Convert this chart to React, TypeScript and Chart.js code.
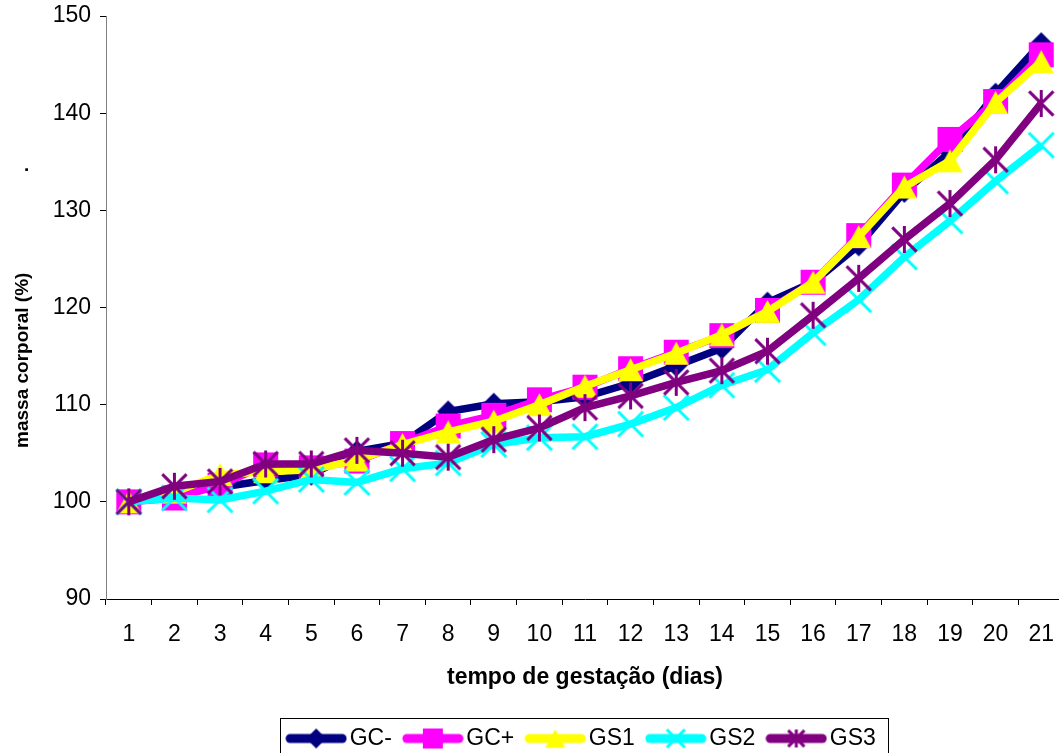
import React, { useEffect, useRef } from "react";
import { Chart, registerables } from "chart.js";

Chart.register(...registerables);

const categories = ["1", "2", "3", "4", "5", "6", "7", "8", "9", "10", "11", "12", "13", "14", "15", "16", "17", "18", "19", "20", "21"];
const seriesNames = ["GC-", "GC+", "GS1", "GS2", "GS3"];
const gcMinus = [100, 100.9, 101.5, 102.2, 102.8, 105.2, 106.0, 109.3, 110.1, 110.3, 110.8, 112.2, 114.0, 115.8, 120.5, 122.6, 126.4, 131.9, 136.0, 142.0, 147.2];
const gcPlus = [100, 100.4, 101.7, 103.8, 103.5, 104.2, 106.0, 107.8, 108.9, 110.5, 111.8, 113.7, 115.4, 117.1, 119.7, 122.6, 127.4, 132.6, 137.3, 141.2, 146.0];
const gs1 = [100, 101.0, 102.8, 103.1, 103.3, 104.3, 105.9, 107.2, 108.3, 110.0, 111.9, 113.6, 115.3, 117.2, 119.6, 122.6, 127.3, 132.4, 135.1, 141.1, 145.3];
const gs2 = [100, 100.4, 100.2, 101.1, 102.3, 102.0, 103.4, 104.0, 105.9, 106.6, 106.7, 108.0, 109.7, 112.0, 113.6, 117.4, 120.8, 125.2, 128.9, 133.0, 136.7];
const gs3 = [100, 101.6, 102.1, 103.9, 103.9, 105.3, 105.0, 104.6, 106.4, 107.6, 109.7, 110.9, 112.3, 113.5, 115.5, 119.2, 123.0, 127.0, 130.7, 135.2, 141.0];
const yTickValues = [90, 100, 110, 120, 130, 140, 150];

const seriesValues = [gcMinus, gcPlus, gs1, gs2, gs3];
const seriesColors = ["#000080", "#FF00FF", "#FFFF00", "#00FFFF", "#800080"];
const seriesMarkers = ["diamond", "square", "triangle", "x", "star"];

const FONT = '"Liberation Sans", Arial, Helvetica, sans-serif';
const W = 1080;
const H = 760;

function drawMarker(ctx: CanvasRenderingContext2D, kind: string, cx: number, cy: number, s: number, color: string) {
  ctx.save();
  ctx.fillStyle = color;
  ctx.strokeStyle = color;
  ctx.lineCap = "butt";
  if (kind === "diamond") {
    ctx.beginPath();
    ctx.moveTo(cx, cy - s);
    ctx.lineTo(cx + s, cy);
    ctx.lineTo(cx, cy + s);
    ctx.lineTo(cx - s, cy);
    ctx.closePath();
    ctx.fill();
  } else if (kind === "square") {
    ctx.fillRect(cx - s, cy - s, 2 * s, 2 * s);
  } else if (kind === "triangle") {
    const hh = s * 0.92;
    ctx.beginPath();
    ctx.moveTo(cx, cy - hh);
    ctx.lineTo(cx + s, cy + hh);
    ctx.lineTo(cx - s, cy + hh);
    ctx.closePath();
    ctx.fill();
  } else if (kind === "x") {
    ctx.lineWidth = 3;
    ctx.beginPath();
    ctx.moveTo(cx - s, cy - s);
    ctx.lineTo(cx + s, cy + s);
    ctx.moveTo(cx + s, cy - s);
    ctx.lineTo(cx - s, cy + s);
    ctx.stroke();
  } else if (kind === "star") {
    ctx.lineWidth = 3;
    const a = s * 0.9;
    ctx.beginPath();
    ctx.moveTo(cx - a, cy - a);
    ctx.lineTo(cx + a, cy + a);
    ctx.moveTo(cx + a, cy - a);
    ctx.lineTo(cx - a, cy + a);
    ctx.moveTo(cx, cy - s);
    ctx.lineTo(cx, cy + s);
    ctx.stroke();
  }
  ctx.restore();
}

const markerHalf: Record<string, number> = { diamond: 11, square: 12.5, triangle: 12.5, x: 12.5, star: 13.5 };
const legendHalf: Record<string, number> = { diamond: 10, square: 10, triangle: 10, x: 9, star: 9 };

function markerImage(kind: string, color: string) {
  const s = markerHalf[kind];
  const size = Math.ceil(2 * s + 4);
  const c = document.createElement("canvas");
  c.width = size;
  c.height = size;
  const ctx = c.getContext("2d")!;
  drawMarker(ctx, kind, size / 2, size / 2, s, color);
  return c;
}

function legendImage(kind: string, color: string) {
  const c = document.createElement("canvas");
  c.width = 62;
  c.height = 24;
  const ctx = c.getContext("2d")!;
  ctx.strokeStyle = color;
  ctx.lineWidth = 9;
  ctx.lineCap = "round";
  ctx.beginPath();
  ctx.moveTo(5, 12);
  ctx.lineTo(57, 12);
  ctx.stroke();
  drawMarker(ctx, kind, 31, 12, legendHalf[kind], color);
  return c;
}

const legendBorder = {
  id: "legendBorder",
  afterDraw(chart: any) {
    const lg = chart.legend;
    if (!lg || !lg.legendHitBoxes || !lg.legendHitBoxes.length) return;
    const hbs = lg.legendHitBoxes;
    const left = Math.min(...hbs.map((h: any) => h.left)) - 14;
    const right = Math.max(...hbs.map((h: any) => h.left + h.width)) + 12;
    const ctx = chart.ctx;
    ctx.save();
    ctx.strokeStyle = "#000";
    ctx.lineWidth = 1;
    ctx.strokeRect(Math.round(left) + 0.5, Math.round(lg.top) + 10.5, Math.round(right - left), 200);
    ctx.restore();
  },
};

export default function App() {
  const ref = useRef<HTMLCanvasElement | null>(null);

  useEffect(() => {
    if (!ref.current) return;
    const legendImgs = seriesMarkers.map((m, i) => legendImage(m, seriesColors[i]));
    const datasets = seriesNames.map((name, i) => ({
      label: name,
      data: seriesValues[i],
      borderColor: seriesColors[i],
      backgroundColor: seriesColors[i],
      borderWidth: 7.5,
      tension: 0,
      pointStyle: markerImage(seriesMarkers[i], seriesColors[i]),
      pointRadius: 13,
      pointHoverRadius: 13,
      pointBorderWidth: 0,
      order: seriesNames.length - i,
    }));

    const chart = new Chart(ref.current, {
      type: "line",
      data: { labels: categories, datasets },
      plugins: [legendBorder],
      options: {
        responsive: false,
        animation: false,
        devicePixelRatio: 1,
        events: [],
        layout: { padding: { top: 16, right: W - 1064, left: 0, bottom: 0 } },
        plugins: {
          tooltip: { enabled: false },
          legend: {
            position: "bottom",
            fullSize: false,
            align: "center",
            labels: {
              usePointStyle: true,
              pointStyleWidth: 44,
              padding: 19,
              color: "#000",
              font: { family: FONT, size: 23 },
              generateLabels: (ch: any) =>
                ch.data.datasets.map((ds: any, i: number) => ({
                  text: ds.label,
                  pointStyle: legendImgs[i],
                  fillStyle: ds.borderColor,
                  strokeStyle: ds.borderColor,
                  lineWidth: 0,
                  hidden: false,
                  datasetIndex: i,
                  fontColor: "#000",
                })),
            },
          },
        },
        scales: {
          x: {
            type: "category",
            offset: true,
            grid: { offset: true, drawOnChartArea: false, drawTicks: true, tickLength: 6, color: "#000" },
            border: { display: true, color: "#000", width: 1 },
            ticks: { color: "#000", font: { family: FONT, size: 23 }, padding: 16, maxRotation: 0, autoSkip: false },
            title: {
              display: true,
              text: "tempo de gestação (dias)",
              color: "#000",
              font: { family: FONT, size: 23, weight: "bold" },
              padding: { top: 0, bottom: 17 },
            },
            afterFit: (s: any) => {
              s.height = 109;
              s.paddingLeft = 0;
              s.paddingRight = 0;
            },
          },
          y: {
            min: 90,
            max: 150,
            afterBuildTicks: (s: any) => {
              s.ticks = yTickValues.map((v) => ({ value: v }));
            },
            grid: { drawOnChartArea: false, drawTicks: true, tickLength: 6, color: "#000" },
            border: { display: true, color: "#808080", width: 1 },
            ticks: { color: "#000", font: { family: FONT, size: 23 }, padding: 9 },
            title: {
              display: true,
              text: "massa corporal (%)                   .",
              color: "#000",
              font: { family: FONT, size: 19, weight: "bold" },
              padding: { top: 11, bottom: 0 },
            },
            afterFit: (s: any) => {
              s.width = 106;
              s.paddingTop = 0;
              s.paddingBottom = 0;
            },
          },
        },
      },
    } as any);
    return () => chart.destroy();
  }, []);

  return (
    <div style={{ position: "fixed", left: 0, top: 0, width: W, height: H, overflow: "hidden", background: "#fff" }}>
      <canvas ref={ref} width={W} height={H} style={{ display: "block" }} />
    </div>
  );
}
